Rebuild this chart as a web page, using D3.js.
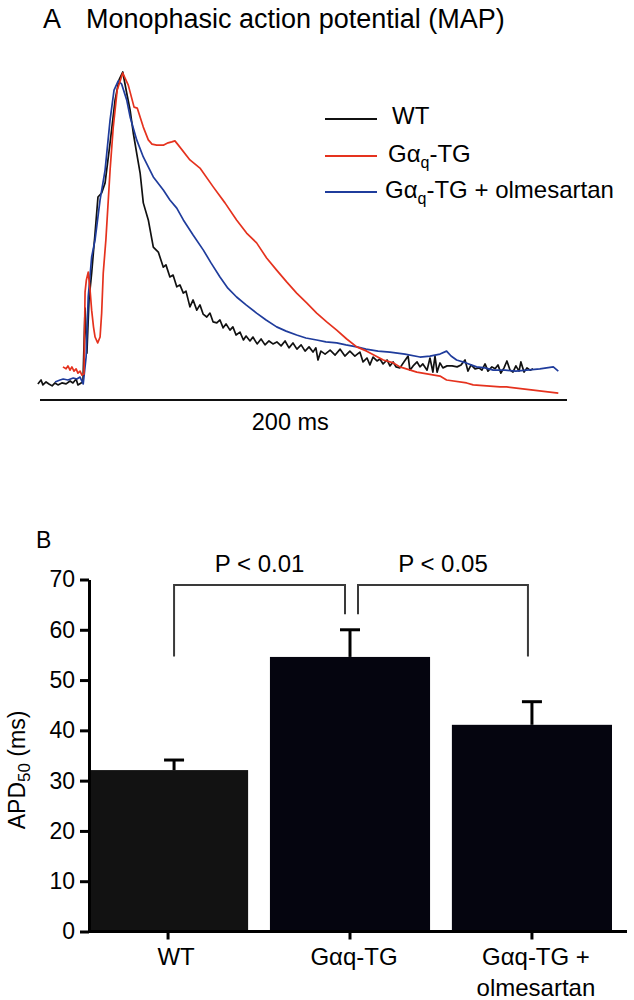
<!DOCTYPE html>
<html>
<head>
<meta charset="utf-8">
<script src="https://cdn.jsdelivr.net/npm/d3@7"></script>
<style>
  html, body { margin: 0; padding: 0; background: #fff; }
  svg { display: block; font-family: "Liberation Sans", Arial, sans-serif; }
</style>
</head>
<body>
<svg id="chart" width="634" height="1000"></svg>
<script>
// ---------- Panel A data: MAP traces, [time (ms), amplitude (% of peak)] ----------
const wtTrace = [
  [-0.8,4.9],[0.4,6.1],[1.1,4.6],[2.3,5.5],[3.4,4.9],[4.6,4.3],[5.7,5.2],[6.8,4.6],[8.3,5.2],[9.9,4.9],
  [11.4,5.8],[12.5,5.2],[13.7,6.4],[14.4,4.6],[15.6,5.2],[16.3,5.5],[17.1,28.0],[17.8,14.3],[18.6,30.5],
  [19.6,38.7],[20.9,50.9],[22.0,61.9],[23.4,63.1],[24.7,66.2],[26.6,78.4],[28.5,91.5],[30.0,97.6],[31.4,100],
  [32.9,93.6],[34.2,88.4],[35.4,81.4],[36.8,74.7],[38.0,69.2],[39.2,60.1],[41.1,54.9],[43.0,46.6],[44.9,45.1],
  [46.8,40.5],[47.8,41.2],[49.3,37.5],[50.5,38.1],[51.9,34.5],[53.1,35.1],[54.4,32.6],[55.4,33.2],[56.9,28.4],
  [58.1,30.5],[59.5,27.4],[60.7,29.0],[61.9,26.2],[63.3,25.3],[64.5,26.5],[65.7,23.8],[67.1,23.5],[68.3,24.4],
  [69.5,22.0],[70.6,23.2],[72.1,21.3],[73.2,22.3],[74.4,19.8],[75.9,20.7],[77.2,18.3],[78.2,19.5],[79.7,18.0],
  [80.8,19.2],[82.4,17.1],[83.9,18.6],[85.4,16.8],[86.9,18.0],[88.4,17.1],[89.9,17.7],[91.5,16.5],[93.0,18.0],
  [94.5,15.9],[96.0,17.4],[97.5,15.5],[99.1,16.8],[100.6,14.9],[102.1,16.2],[103.6,14.6],[104.7,15.9],
  [105.5,12.2],[106.6,14.9],[108.2,14.0],[110.1,15.2],[112.0,13.7],[113.9,15.5],[115.7,13.4],[117.6,14.9],
  [119.5,13.4],[121.4,14.6],[122.6,11.6],[124.1,12.8],[125.2,10.7],[126.4,13.1],[127.9,11.9],[129.0,12.5],
  [130.2,11.0],[131.7,12.2],[132.8,10.4],[134.0,11.6],[135.1,10.1],[136.6,9.8],[138.1,11.6],[139.7,13.4],
  [140.4,9.1],[141.6,10.4],[143.1,11.6],[144.2,10.1],[145.3,11.0],[146.9,9.1],[148.0,12.8],[149.1,8.5],
  [149.9,13.4],[150.7,8.5],[151.8,11.3],[152.9,9.8],[154.5,10.4],[156.4,10.4],[158.3,10.1],[159.8,10.7],
  [161.3,12.2],[162.4,8.8],[163.6,10.7],[165.1,9.5],[166.6,9.8],[167.7,9.1],[168.9,11.0],[170.0,8.8],
  [171.5,10.1],[172.7,9.5],[173.8,10.7],[174.9,8.2],[176.1,9.8],[177.2,11.9],[178.4,9.1],[179.5,8.5],
  [180.6,10.4],[181.8,8.8],[182.5,11.6],[183.7,8.5],[184.8,9.8],[186.0,9.1],[187.1,9.5]
];
const tgTrace = [
  [8.7,10.1],[9.9,9.5],[10.6,10.4],[11.4,9.1],[12.1,10.1],[12.9,8.8],[13.7,9.5],[14.4,8.2],[15.2,8.8],
  [15.9,7.6],[16.7,7.9],[17.1,32.9],[17.6,36.6],[18.3,39.0],[19.0,33.5],[19.6,27.4],[20.3,22.3],[20.9,19.2],
  [21.9,17.4],[22.8,19.2],[23.4,26.5],[24.0,38.7],[25.0,48.8],[26.6,70.1],[27.8,83.2],[29.3,94.5],[31.4,99.7],
  [33.5,96.0],[35.7,89.3],[36.9,89.0],[39.2,83.2],[41.1,79.3],[42.5,78.0],[44.3,77.7],[46.8,77.7],[48.6,78.4],
  [50.0,78.7],[51.2,79.0],[52.5,77.7],[56.9,73.2],[60.7,70.7],[65.8,64.9],[70.2,60.1],[74.6,54.9],[78.4,50.9],
  [82.2,47.9],[86.0,43.3],[89.8,39.6],[93.6,36.0],[97.4,32.6],[101.2,29.6],[105.0,26.5],[108.8,23.8],
  [112.6,21.3],[116.4,18.6],[120.2,16.2],[124.0,14.9],[130.3,12.2],[134.1,11.3],[136.6,10.1],[143.0,8.5],
  [151.8,7.3],[154.3,6.1],[161.9,5.2],[164.4,4.6],[174.6,4.0],[177.1,4.0],[187.2,3.0],[196.7,2.1]
];
const olmTrace = [
  [5.7,5.5],[7.6,6.1],[8.8,6.4],[10.6,6.1],[12.6,6.7],[14.0,6.4],[15.2,7.0],[16.4,4.9],[17.5,13.1],[18.3,31.4],
  [19.6,43.6],[20.9,48.8],[22.8,61.0],[24.7,70.1],[26.6,85.4],[28.1,94.5],[29.7,97.3],[31.0,96.3],[32.9,91.5],
  [34.2,86.3],[36.7,79.3],[39.2,74.1],[43.0,68.0],[46.8,64.0],[49.3,61.0],[51.9,58.5],[54.4,54.9],[58.1,50.3],
  [62.0,45.7],[64.9,41.8],[68.3,37.5],[71.3,34.1],[74.6,31.4],[78.2,29.0],[82.2,26.5],[85.8,24.4],[89.8,22.3],
  [93.4,21.0],[97.4,19.8],[100.9,18.9],[105.0,18.3],[108.5,17.7],[112.6,17.4],[116.1,16.8],[120.2,16.2],
  [123.7,15.5],[128.3,14.9],[132.8,14.6],[138.5,14.0],[144.2,13.1],[148.0,13.4],[151.8,14.0],[154.3,14.9],
  [156.0,13.4],[158.1,12.2],[161.7,11.3],[165.7,10.1],[168.9,9.8],[172.0,9.1],[176.5,9.1],[180.6,8.8],
  [184.7,9.1],[189.7,9.5],[194.8,10.1],[196.7,8.8]
];
const traceNames = ["WT", "TG", "OLM"];
const traceColors = ["#111111", "#e5321e", "#1f3c9c"];
const scaleBarLabel = "200 ms";
const scaleBarMs = [0, 200];

// ---------- Panel B data ----------
const barCategories = ["WT", "Gαq-TG", "Gαq-TG + olmesartan"];
const apd50Mean = [32.1, 54.6, 41.1];
const apd50Sem = [2.0, 5.4, 4.6];
const yTicks = [0, 10, 20, 30, 40, 50, 60, 70];
const barColors = ["#121212", "#05050f", "#05050f"];
const comparisons = [
  { a: 0, b: 1, label: "P < 0.01" },
  { a: 1, b: 2, label: "P < 0.05" }
];

const svg = d3.select("#chart");

// ================= Panel A =================
svg.append("text").attr("x", 43).attr("y", 28).attr("font-size", 27).text("A");
svg.append("text").attr("x", 86).attr("y", 28).attr("font-size", 27).text("Monophasic action potential (MAP)");

const xA = d3.scaleLinear().domain([0, 200]).range([40, 567]);
const yA = d3.scaleLinear().domain([0, 100]).range([400, 72]);
const lineA = d3.line().x(d => xA(d[0])).y(d => yA(d[1]));

[wtTrace, olmTrace, tgTrace].forEach((tr, i) => {
  const ci = [0, 2, 1][i];
  svg.append("path").datum(tr)
    .attr("d", lineA).attr("fill", "none")
    .attr("stroke", traceColors[ci]).attr("stroke-width", 1.7)
    .attr("stroke-linejoin", "round");
});

// time scale bar
svg.append("line")
  .attr("x1", xA(scaleBarMs[0])).attr("x2", xA(scaleBarMs[1]))
  .attr("y1", yA(0)).attr("y2", yA(0))
  .attr("stroke", "#111").attr("stroke-width", 2);
svg.append("text").attr("x", xA(95)).attr("y", 430).attr("text-anchor", "middle")
  .attr("font-size", 23.5).text(scaleBarLabel);

// legend
const legY = [119, 156, 192];
const legX0 = 325, legX1 = 377;
traceNames.forEach((n, i) => {
  svg.append("line").attr("x1", legX0).attr("x2", legX1).attr("y1", legY[i]).attr("y2", legY[i])
    .attr("stroke", traceColors[i]).attr("stroke-width", 2);
});
svg.append("text").attr("x", 392).attr("y", 124).attr("font-size", 24).text("WT");
function gaqLabel(x, y, suffix) {
  const t = svg.append("text").attr("x", x).attr("y", y).attr("font-size", 24);
  t.append("tspan").text("Gα");
  t.append("tspan").attr("font-size", 16).attr("dy", 6).text("q");
  t.append("tspan").attr("dy", -6).text("-TG" + suffix);
}
gaqLabel(388, 162, "");
gaqLabel(385, 198, " + olmesartan");

// ================= Panel B =================
svg.append("text").attr("x", 36).attr("y", 548).attr("font-size", 23).text("B");

const xB = d3.scaleBand().domain(barCategories).range([88, 612]).paddingInner(0.12).paddingOuter(0);
const yB = d3.scaleLinear().domain([0, 70]).range([931.5, 579.5]);

// bars
svg.append("g").selectAll("rect").data(barCategories).join("rect")
  .attr("x", d => xB(d)).attr("width", xB.bandwidth())
  .attr("y", (d, i) => yB(apd50Mean[i]))
  .attr("height", (d, i) => yB(0) - yB(apd50Mean[i]))
  .attr("fill", (d, i) => barColors[i]);

// error bars
const eb = svg.append("g").attr("stroke", "#000").attr("stroke-width", 3);
barCategories.forEach((c, i) => {
  const cx = xB(c) + xB.bandwidth() / 2 + (i === 0 ? 6 : 0);
  eb.append("line").attr("x1", cx).attr("x2", cx)
    .attr("y1", yB(apd50Mean[i])).attr("y2", yB(apd50Mean[i] + apd50Sem[i]));
  eb.append("line").attr("x1", cx - 10).attr("x2", cx + 10)
    .attr("y1", yB(apd50Mean[i] + apd50Sem[i])).attr("y2", yB(apd50Mean[i] + apd50Sem[i]));
});

// y axis
const yAxis = svg.append("g").attr("transform", "translate(89,0)")
  .call(d3.axisLeft(yB).tickValues(yTicks).tickSize(9).tickSizeOuter(0).tickPadding(5));
yAxis.selectAll("path,line").attr("stroke", "#000").attr("stroke-width", 3);
yAxis.selectAll("text").attr("font-size", 23).attr("font-family", "Liberation Sans, Arial, sans-serif").attr("fill", "#000");

// x axis
const xAxisG = svg.append("g").attr("transform", `translate(0,${yB(0)})`)
  .call(d3.axisBottom(xB).tickSize(8).tickSizeOuter(0).tickFormat(""));
xAxisG.select(".domain").remove();
xAxisG.selectAll("line").attr("stroke", "#000").attr("stroke-width", 3);
svg.append("line").attr("x1", 88).attr("x2", 627).attr("y1", yB(0)).attr("y2", yB(0))
  .attr("stroke", "#000").attr("stroke-width", 3);

// category labels
const catLines = [["WT"], ["Gαq-TG"], ["Gαq-TG +", "olmesartan"]];
barCategories.forEach((c, i) => {
  const cx = xB(c) + xB.bandwidth() / 2 + (i === 0 ? 8 : 4);
  const t = svg.append("text").attr("x", cx).attr("y", 965).attr("text-anchor", "middle").attr("font-size", 24);
  catLines[i].forEach((s, j) => t.append("tspan").attr("x", cx).attr("dy", j === 0 ? 0 : 31).text(s));
});

// y axis title
const yt = svg.append("text").attr("transform", "translate(25,770) rotate(-90)")
  .attr("text-anchor", "middle").attr("font-size", 23);
yt.append("tspan").text("APD");
yt.append("tspan").attr("font-size", 17).attr("dy", 5).text("50");
yt.append("tspan").attr("dy", -5).text(" (ms)");

// significance brackets
const brTop = yB(68.9), innerBottom = yB(63.1), outerBottom = yB(54.7);
const br = svg.append("g").attr("stroke", "#3a3a3a").attr("stroke-width", 2).attr("fill", "none");
comparisons.forEach((cmp, k) => {
  const ca = xB(barCategories[cmp.a]) + xB.bandwidth() / 2;
  const cb = xB(barCategories[cmp.b]) + xB.bandwidth() / 2;
  const x1 = k === 0 ? ca + 6 : ca + 8;
  const x2 = k === 0 ? cb - 5 : cb - 4;
  const y1b = k === 0 ? outerBottom : innerBottom;
  const y2b = k === 0 ? innerBottom : outerBottom;
  br.append("path").attr("d", `M${x1},${y1b}V${brTop}H${x2}V${y2b}`);
  svg.append("text").attr("x", (x1 + x2) / 2).attr("y", 572).attr("text-anchor", "middle")
    .attr("font-size", 24).text(cmp.label);
});
</script>
</body>
</html>
